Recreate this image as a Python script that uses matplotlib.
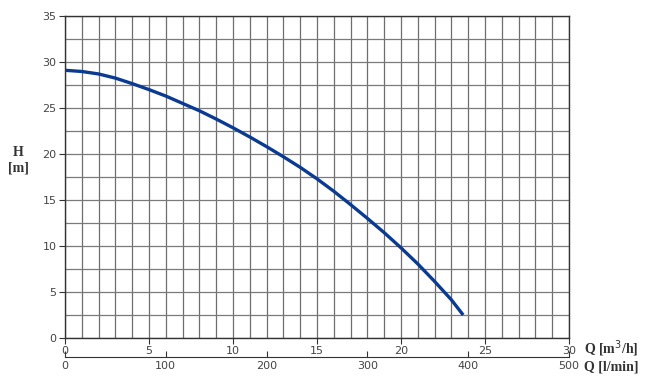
import matplotlib
matplotlib.use("Agg")
import matplotlib.pyplot as plt
import numpy as np

# pump curve
q_m3h = [0, 1, 2, 3, 4, 5, 6, 7, 8, 9, 10, 11, 12, 13, 14, 15, 16, 17, 18, 19, 20, 21, 22, 23, 23.7]
h_m = [29.1, 28.97, 28.7, 28.25, 27.65, 27.0, 26.3, 25.5, 24.7, 23.8, 22.85, 21.85, 20.8, 19.7,
       18.55, 17.3, 15.95, 14.5, 13.0, 11.45, 9.8, 8.05, 6.15, 4.15, 2.5]

q_ticks = [0, 5, 10, 15, 20, 25, 30]
lmin_ticks = [0, 100, 200, 300, 400, 500]
h_ticks = [0, 5, 10, 15, 20, 25, 30, 35]

fig = plt.figure(figsize=(6.5, 3.83), dpi=100)
ax = fig.add_axes([65/650, 45/383, 504/650, 322/383])

# grid
for q in range(0, 31):
    ax.axvline(q, color='#6e6e6e', lw=0.9, zorder=1)
for h in np.arange(0, 35.1, 2.5):
    ax.axhline(h, color='#7a7a7a', lw=0.9, zorder=1)

ax.plot(q_m3h, h_m, color='#0b3a91', lw=2.4, solid_capstyle='butt',
        solid_joinstyle='round', zorder=3)

ax.set_xlim(0, 30)
ax.set_ylim(0, 35)
ax.set_xticks(q_ticks)
ax.set_yticks(h_ticks)
for s in ax.spines.values():
    s.set_color('#333333')
    s.set_linewidth(1.0)
ax.tick_params(direction='out', length=4, width=0.8, colors='#333333',
               labelsize=8, labelcolor='#444444', pad=2)

# second scale in l/min
sec = ax.secondary_xaxis(-19/322, functions=(lambda x: x*1000/60, lambda x: x*60/1000))
sec.set_xticks(lmin_ticks)
sec.spines['bottom'].set_color('#333333')
sec.tick_params(direction='in', length=4, width=0.8, colors='#333333',
                labelsize=8, labelcolor='#444444', pad=3)

lab = dict(family='Liberation Serif', fontweight='bold', fontsize=10, color='#333333')
fig.text(18/650, 1 - 160/383, 'H\n[m]', ha='center', va='center', linespacing=1.3, **lab)
fig.text(584/650, 1 - 349/383, 'Q [m$^3$/h]', ha='left', va='center', **lab)
fig.text(584/650, 1 - 367/383, 'Q [l/min]', ha='left', va='center', **lab)

fig.savefig('out.png', dpi=100)
